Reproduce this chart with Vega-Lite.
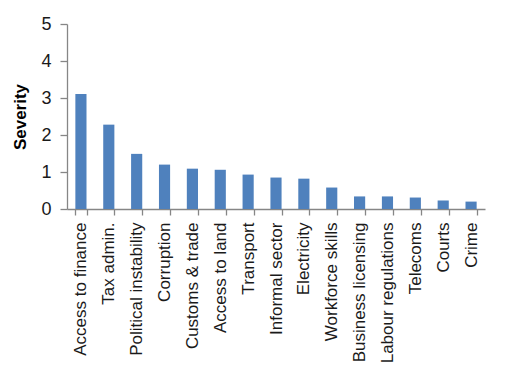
{
  "$schema": "https://vega.github.io/schema/vega-lite/v6.json",
  "autosize": "none",
  "padding": {"left": 67, "top": 24, "right": 23, "bottom": 175},
  "width": 418,
  "height": 185,
  "background": "white",
  "config": {"view": {"stroke": null}},
  "data": {"values": [
    {"cat": "Access to finance", "v": 3.11},
    {"cat": "Tax admin.", "v": 2.28},
    {"cat": "Political instability", "v": 1.49},
    {"cat": "Corruption", "v": 1.20},
    {"cat": "Customs & trade", "v": 1.09},
    {"cat": "Access to land", "v": 1.06},
    {"cat": "Transport", "v": 0.93},
    {"cat": "Informal sector", "v": 0.85},
    {"cat": "Electricity", "v": 0.82},
    {"cat": "Workforce skills", "v": 0.58},
    {"cat": "Business licensing", "v": 0.34},
    {"cat": "Labour regulations", "v": 0.34},
    {"cat": "Telecoms", "v": 0.31},
    {"cat": "Courts", "v": 0.23},
    {"cat": "Crime", "v": 0.20}
  ]},
  "mark": {"type": "bar", "color": "#4F81BD"},
  "encoding": {
    "x": {
      "field": "cat", "type": "nominal", "sort": null,
      "scale": {"paddingInner": 0.6, "paddingOuter": 0.3},
      "axis": {
        "title": null, "labelAngle": -90, "labelAlign": "right", "labelBaseline": "middle",
        "labelFont": "Liberation Sans", "labelFontSize": 17, "labelColor": "#1a1a1a",
        "labelPadding": 7, "tickBand": "extent", "tickSize": 6,
        "domainColor": "#868686", "tickColor": "#868686", "domainWidth": 1.3, "tickWidth": 1.3,
        "labelLimit": 0
      }
    },
    "y": {
      "field": "v", "type": "quantitative",
      "scale": {"domain": [0, 5], "nice": false},
      "axis": {
        "title": "Severity", "titleFont": "Liberation Sans", "titleFontSize": 17, "titleFontWeight": "bold",
        "titleColor": "#000000", "titlePadding": 11,
        "values": [0, 1, 2, 3, 4, 5], "grid": false,
        "labelFont": "Liberation Sans", "labelFontSize": 18, "labelColor": "#1a1a1a", "labelPadding": 9,
        "tickSize": 7, "domainColor": "#868686", "tickColor": "#868686", "domainWidth": 1.3, "tickWidth": 1.3
      }
    }
  }
}
